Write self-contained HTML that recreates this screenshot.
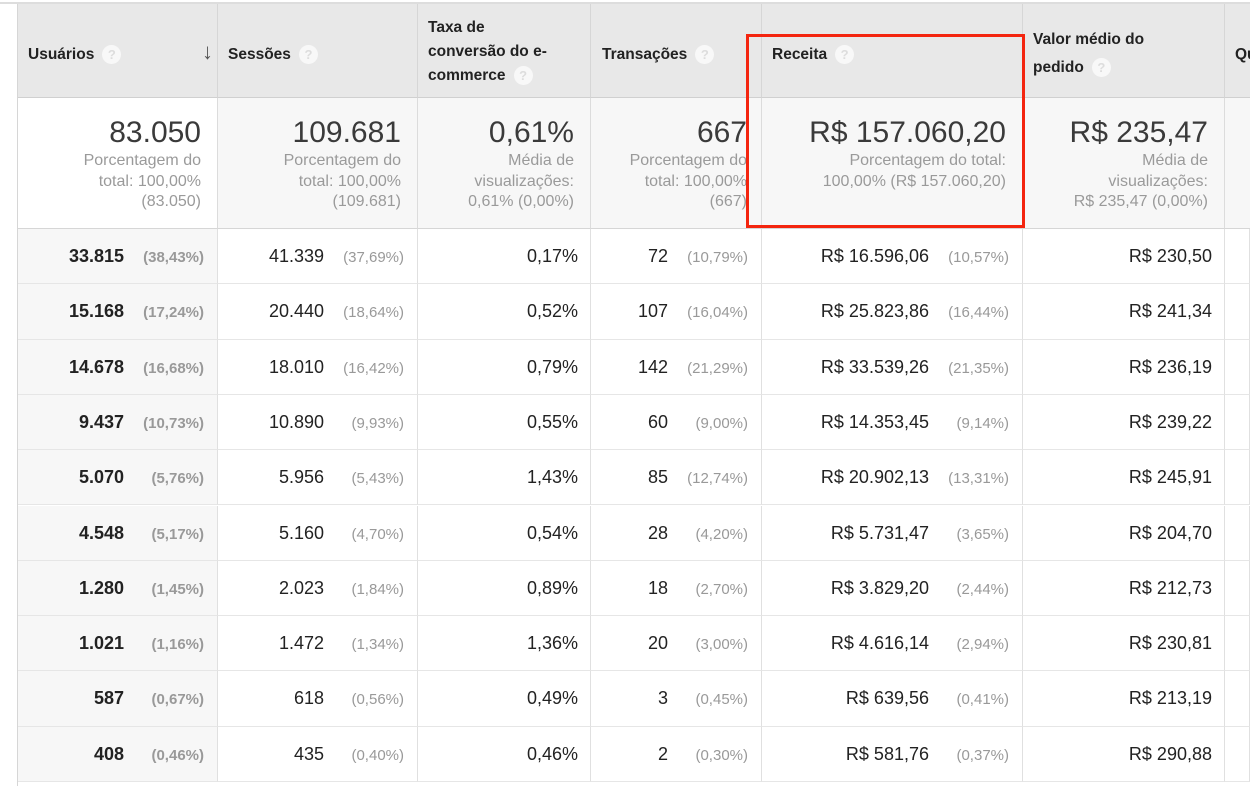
<!DOCTYPE html>
<html><head><meta charset="utf-8">
<style>
body{margin:0;width:1250px;height:786px;overflow:hidden;background:#fff;font-family:"Liberation Sans",Arial,sans-serif;position:relative;color:#222}
.c{position:absolute;box-sizing:border-box}
.hd{background:#e8e8e8;border-right:1px solid #d6d6d6;border-bottom:1px solid #d0d0d0;font-weight:bold;font-size:15.5px;color:#222;line-height:20px}
.tot{background:#f7f7f7;border-right:1px solid #dcdcdc;border-bottom:1px solid #d6d6d6;text-align:right;padding-right:16px;padding-top:17px}
.big{font-size:30px;color:#3a3a3a;line-height:36px}
.sub{font-size:16px;color:#9a9a9a;line-height:20.5px}
.q{display:inline-block;width:19px;height:19px;border-radius:50%;background:#f8f8f8;color:#ddd;font-size:13px;text-align:center;line-height:19px;vertical-align:middle;margin-left:8px;font-weight:bold}
.cell{border-right:1px solid #e0e0e0;border-bottom:1px solid #e6e6e6;font-size:18px;line-height:55px;text-align:right;white-space:nowrap}
.pct{font-size:15px;color:#999;display:inline-block;text-align:right;line-height:20px}
</style></head><body>
<div class="c" style="left:0;top:2px;width:1250px;height:2px;background:#ddd"></div>
<div class="c" style="left:0;top:4px;width:18px;height:782px;border-right:1px solid #d6d6d6;background:#fff"></div>
<div class="c hd" style="left:18px;top:4px;width:200px;height:94px;padding:41px 0 0 10px">Usuários<span class="q">?</span><span style="position:absolute;right:4px;top:38px;font-size:22px;color:#555">&#8595;</span></div>
<div class="c hd" style="left:218px;top:4px;width:200px;height:94px;padding:41px 0 0 10px">Sessões<span class="q">?</span></div>
<div class="c hd" style="left:418px;top:4px;width:173px;height:94px;padding:12px 0 0 10px;line-height:24px">Taxa de<br>conversão do e-<br>commerce<span class="q">?</span></div>
<div class="c hd" style="left:591px;top:4px;width:171px;height:94px;padding:41px 0 0 11px">Transações<span class="q">?</span></div>
<div class="c hd" style="left:762px;top:4px;width:261px;height:94px;padding:41px 0 0 10px">Receita<span class="q">?</span></div>
<div class="c hd" style="left:1023px;top:4px;width:202px;height:94px;padding:22px 0 0 10px;line-height:28px">Valor médio do<br>pedido<span class="q">?</span></div>
<div class="c hd" style="left:1225px;top:4px;width:25px;height:94px;padding:41px 0 0 10px;overflow:hidden;border-right:none">Qu</div>

<div class="c tot" style="left:18px;top:98px;width:200px;height:131px;background:#fff"><div class="big">83.050</div><div class="sub">Porcentagem do<br>total: 100,00%<br>(83.050)</div></div>
<div class="c tot" style="left:218px;top:98px;width:200px;height:131px"><div class="big">109.681</div><div class="sub">Porcentagem do<br>total: 100,00%<br>(109.681)</div></div>
<div class="c tot" style="left:418px;top:98px;width:173px;height:131px"><div class="big">0,61%</div><div class="sub">Média de<br>visualizações:<br>0,61% (0,00%)</div></div>
<div class="c tot" style="left:591px;top:98px;width:171px;height:131px;padding-right:14px"><div class="big">667</div><div class="sub">Porcentagem do<br>total: 100,00%<br>(667)</div></div>
<div class="c tot" style="left:762px;top:98px;width:261px;height:131px"><div class="big">R$ 157.060,20</div><div class="sub">Porcentagem do total:<br>100,00% (R$ 157.060,20)</div></div>
<div class="c tot" style="left:1023px;top:98px;width:202px;height:131px"><div class="big">R$ 235,47</div><div class="sub">Média de<br>visualizações:<br>R$ 235,47 (0,00%)</div></div>
<div class="c tot" style="left:1225px;top:98px;width:25px;height:131px;border-right:none"></div>

<div class="c" style="left:746px;top:34px;width:279px;height:194px;border:3px solid #f4250f"></div>
<div id="rows"></div>
<script>
const users=["33.815","15.168","14.678","9.437","5.070","4.548","1.280","1.021","587","408"];
const usersPct=["(38,43%)","(17,24%)","(16,68%)","(10,73%)","(5,76%)","(5,17%)","(1,45%)","(1,16%)","(0,67%)","(0,46%)"];
const sessions=["41.339","20.440","18.010","10.890","5.956","5.160","2.023","1.472","618","435"];
const sessionsPct=["(37,69%)","(18,64%)","(16,42%)","(9,93%)","(5,43%)","(4,70%)","(1,84%)","(1,34%)","(0,56%)","(0,40%)"];
const convRate=["0,17%","0,52%","0,79%","0,55%","1,43%","0,54%","0,89%","1,36%","0,49%","0,46%"];
const transactions=["72","107","142","60","85","28","18","20","3","2"];
const transactionsPct=["(10,79%)","(16,04%)","(21,29%)","(9,00%)","(12,74%)","(4,20%)","(2,70%)","(3,00%)","(0,45%)","(0,30%)"];
const revenue=["R$ 16.596,06","R$ 25.823,86","R$ 33.539,26","R$ 14.353,45","R$ 20.902,13","R$ 5.731,47","R$ 3.829,20","R$ 4.616,14","R$ 639,56","R$ 581,76"];
const revenuePct=["(10,57%)","(16,44%)","(21,35%)","(9,14%)","(13,31%)","(3,65%)","(2,44%)","(2,94%)","(0,41%)","(0,37%)"];
const avgOrder=["R$ 230,50","R$ 241,34","R$ 236,19","R$ 239,22","R$ 245,91","R$ 204,70","R$ 212,73","R$ 230,81","R$ 213,19","R$ 290,88"];
const root=document.getElementById('rows');
const cols=[[18,200],[218,200],[418,173],[591,171],[762,261],[1023,202],[1225,25]];
function cell(i,ci,val,pct,bold,pr){
  const d=document.createElement('div');
  d.className='c cell';
  
  
  d.style.left=cols[ci][0]+'px';d.style.top=(229+i*55.3)+'px';
  d.style.width=cols[ci][1]+'px';d.style.height='55.3px';
  d.style.paddingRight=pr+'px';
  if(ci===0)d.style.background='#f7f7f7';
  if(val!==null){const v=document.createElement('span');v.textContent=val;if(bold)v.style.fontWeight='bold';d.appendChild(v);}
  if(pct){const p=document.createElement('span');p.className='pct';p.textContent=pct;p.style.width='80px';if(bold)p.style.fontWeight='bold';d.appendChild(p);}
  root.appendChild(d);
}
for(let i=0;i<users.length;i++){
  cell(i,0,users[i],usersPct[i],true,13);
  cell(i,1,sessions[i],sessionsPct[i],false,13);
  cell(i,2,convRate[i],null,false,12);
  cell(i,3,transactions[i],transactionsPct[i],false,13);
  cell(i,4,revenue[i],revenuePct[i],false,13);
  cell(i,5,avgOrder[i],null,false,12);
  cell(i,6,null,null,false,0);
}
</script>
</body></html>
